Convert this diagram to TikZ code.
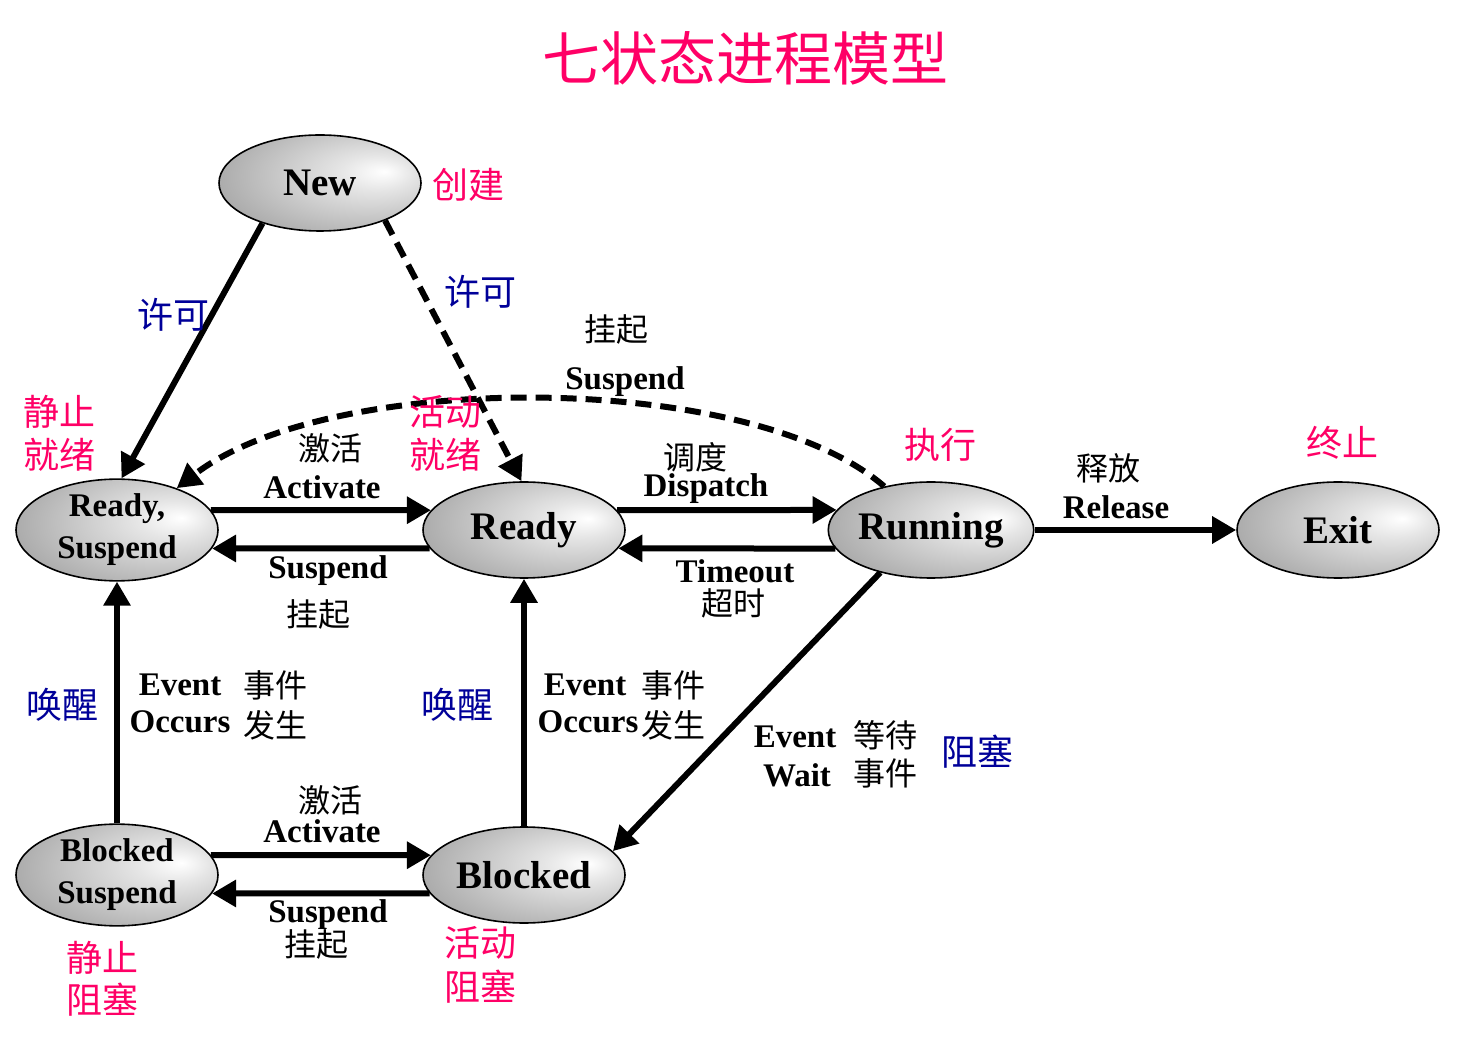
\documentclass[tikz,border=0pt]{standalone}
\usepackage{fontspec}
\setmainfont{Liberation Serif}
\newfontfamily\cjkfont{Noto Sans CJK SC}
\usetikzlibrary{shapes.geometric,arrows.meta}
\definecolor{pinkc}{RGB}{255,0,102}
\definecolor{bluec}{RGB}{0,0,153}
\pgfdeclareradialshading{ellshade}{\pgfpoint{16bp}{6bp}}{color(0bp)=(white); color(9bp)=(white!90!black); color(35bp)=(white!66!black); color(70bp)=(white!47!black)}
\begin{document}
\begin{tikzpicture}[x=0.5pt,y=-0.5pt,
  state/.style={ellipse, draw, line width=0.8pt, minimum width=101pt, minimum height=48pt, inner sep=0pt, shading=ellshade, font=\fontsize{19.5pt}{21pt}\selectfont\bfseries, align=center},
  smallstate/.style={state, font=\fontsize{16.5pt}{21pt}\selectfont\bfseries},
  arr/.style={line width=3pt, -{Triangle[length=12pt,width=13pt]}},
  darr/.style={line width=3pt, dash pattern=on 8pt off 4.5pt, -{Triangle[length=12pt,width=13pt]}},
  lat/.style={font=\fontsize{16.5pt}{20pt}\selectfont\bfseries, inner sep=0pt},
  cj/.style={font=\fontsize{16pt}{20pt}\selectfont\cjkfont, inner sep=0pt},
  pk/.style={font=\fontsize{18pt}{21pt}\selectfont\cjkfont, text=pinkc, inner sep=0pt},
  bl/.style={font=\fontsize{18pt}{21pt}\selectfont\cjkfont, text=bluec, inner sep=0pt}]
\useasboundingbox[fill=white] (0,0) rectangle (1467,1042);

\node[font=\fontsize{29pt}{32pt}\selectfont\cjkfont, text=pinkc] (title) at (745,58) {七状态进程模型};

% states
\node[state] (new) at (320,183) {New};
\node[smallstate] (rs) at (117,530) {Ready,\\Suspend};
\node[state] (ready) at (524,530) {Ready};
\node[state] (run) at (931,530) {Running};
\node[state] (exit) at (1338,530) {Exit};
\node[smallstate] (bs) at (117,875) {Blocked\\Suspend};
\node[state] (blk) at (524,875) {Blocked};

% connectors
\draw[arr] (new.215) -- (rs.85);
\draw[darr] (new.330) -- (ready.93);
\draw[arr] (rs.12) -- (ready.168);
\draw[arr] (ready.191) -- (rs.349);
\draw[arr] (ready.12) -- (run.168);
\draw[arr] (run.191) -- (ready.349);
\draw[arr] (run.east) -- (exit.west);
\draw[darr] (run.137) .. controls (750,370) and (330,370) .. (rs.35);
\draw[arr] (bs.north) -- (rs.south);
\draw[arr] (blk.north) -- (ready.south);
\draw[arr] (run.220) -- (blk.15);
\draw[arr] (bs.12) -- (blk.168);
\draw[arr] (blk.191) -- (bs.349);

% black labels
\node[cj] (l1) at (616,329) {挂起};
\node[lat] (l2) at (625,382) {Suspend};
\node[cj] (l3) at (330,448) {激活};
\node[lat] (l4) at (322,487) {Activate};
\node[cj] (l5) at (695,457) {调度};
\node[lat] (l6) at (706,489) {Dispatch};
\node[cj] (l7) at (1108,468) {释放};
\node[lat] (l8) at (1116,507) {Release};
\node[lat] (l9) at (328,571) {Suspend};
\node[cj] (l10) at (318,614) {挂起};
\node[lat] (l11) at (735,571) {Timeout};
\node[cj] (l12) at (733,603) {超时};
\node[lat] (l13) at (180,685) {Event};
\node[lat] (l14) at (180,722) {Occurs};
\node[cj] (l15) at (275,685) {事件};
\node[cj] (l16) at (275,725) {发生};
\node[lat] (l17) at (585,685) {Event};
\node[lat] (l18) at (588,722) {Occurs};
\node[cj] (l19) at (673,685) {事件};
\node[cj] (l20) at (673,725) {发生};
\node[lat] (l21) at (795,737) {Event};
\node[lat] (l22) at (797,775) {Wait};
\node[cj] (l23) at (885,735) {等待};
\node[cj] (l24) at (885,773) {事件};
\node[cj] (l25) at (330,800) {激活};
\node[lat] (l26) at (322,831) {Activate};
\node[lat] (l27) at (328,915) {Suspend};
\node[cj] (l28) at (316,944) {挂起};

% pink labels
\node[pk] (p1) at (468,185) {创建};
\node[pk] (p2) at (60,412) {静止};
\node[pk] (p3) at (60,455) {就绪};
\node[pk] (p4) at (445,412) {活动};
\node[pk] (p5) at (445,455) {就绪};
\node[pk] (p6) at (940,445) {执行};
\node[pk] (p7) at (1342,443) {终止};
\node[pk] (p8) at (102,958) {静止};
\node[pk] (p9) at (102,1000) {阻塞};
\node[pk] (p10) at (480,943) {活动};
\node[pk] (p11) at (480,987) {阻塞};

% blue labels
\node[bl] (b1) at (173,315) {许可};
\node[bl] (b2) at (480,292) {许可};
\node[bl] (b3) at (62,705) {唤醒};
\node[bl] (b4) at (457,705) {唤醒};
\node[bl] (b5) at (977,752) {阻塞};
\end{tikzpicture}
\end{document}
